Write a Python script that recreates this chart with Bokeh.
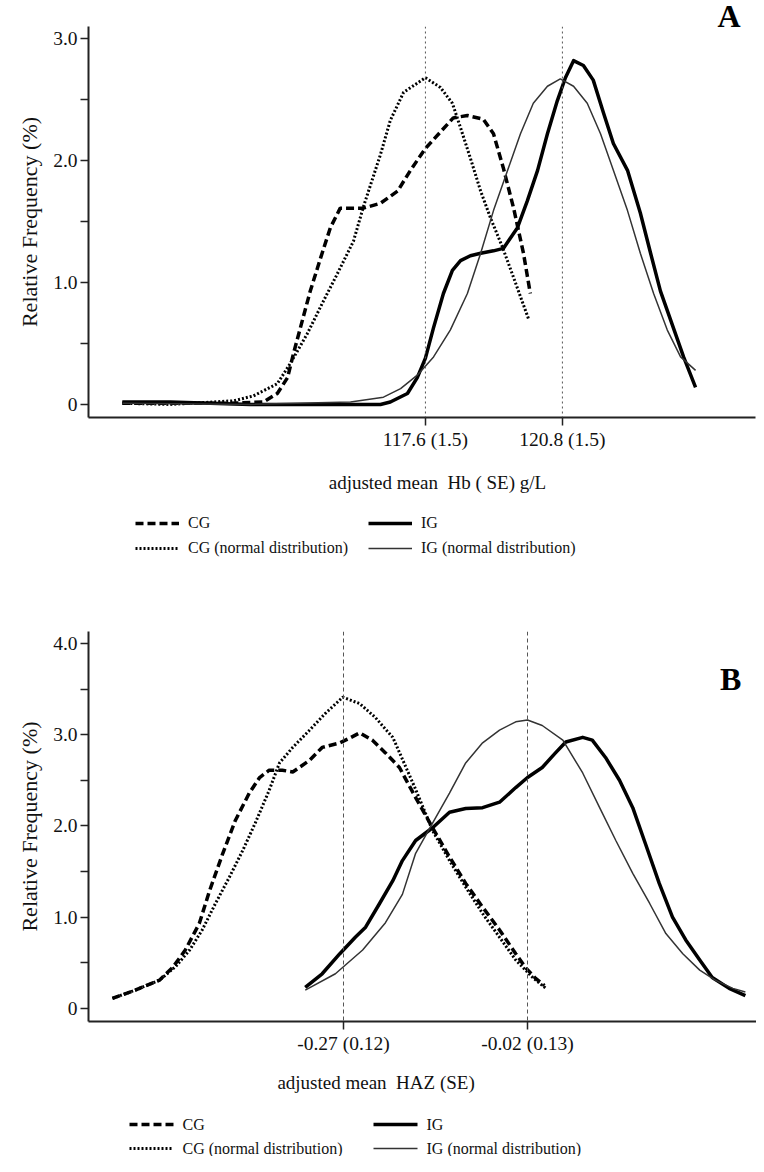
from bokeh.plotting import figure
from bokeh.models import (Range1d, FixedTicker, CustomJSTickFormatter, Span, Label,
                          Legend, LegendItem, Title)
from bokeh.layouts import column
from bokeh.embed import file_html
from bokeh.resources import INLINE

FONT = "Liberation Serif"

# ---------------- Panel A : adjusted mean Hb ----------------
a_cg_x = [110.52, 111.64, 113.05, 113.82, 114.14, 114.38, 114.52, 114.68, 114.91, 115.15,
          115.38, 115.61, 115.85, 116.15, 116.55, 116.95, 117.25, 117.60, 118.25, 118.58,
          118.95, 119.19, 119.42, 119.66, 119.89, 120.05]
a_cg_y = [0.01, 0.01, 0.01, 0.02, 0.09, 0.22, 0.42, 0.63, 0.93, 1.20,
          1.45, 1.61, 1.61, 1.61, 1.65, 1.75, 1.92, 2.10, 2.35, 2.37,
          2.34, 2.22, 1.94, 1.61, 1.24, 0.91]

a_cgn_x = [110.52, 111.64, 113.12, 113.58, 114.14, 114.45, 114.84, 115.22, 115.54, 115.92,
           116.15, 116.55, 116.78, 117.09, 117.60, 117.95, 118.23, 118.42, 118.65, 118.89,
           119.12, 119.40, 119.66, 120.01]
a_cgn_y = [0.01, 0.00, 0.03, 0.07, 0.17, 0.34, 0.58, 0.85, 1.07, 1.34,
           1.62, 2.05, 2.33, 2.56, 2.68, 2.60, 2.47, 2.27, 2.02, 1.75,
           1.53, 1.29, 1.04, 0.70]

a_ig_x = [110.52, 111.64, 113.51, 115.85, 116.55, 116.78, 117.18, 117.41, 117.60, 117.79,
          118.02, 118.23, 118.42, 118.65, 118.89, 119.19, 119.42, 119.75, 119.98, 120.22,
          120.45, 120.68, 120.87, 121.06, 121.29, 121.52, 121.76, 121.99, 122.32, 122.62,
          122.86, 123.09, 123.39, 123.63, 123.91]
a_ig_y = [0.02, 0.02, 0.00, 0.00, 0.00, 0.02, 0.09, 0.22, 0.38, 0.63,
          0.91, 1.10, 1.18, 1.22, 1.24, 1.26, 1.28, 1.45, 1.67, 1.92,
          2.22, 2.49, 2.68, 2.82, 2.78, 2.66, 2.39, 2.14, 1.92, 1.57,
          1.24, 0.93, 0.63, 0.39, 0.14]

a_ign_x = [110.52, 113.51, 115.85, 116.62, 117.02, 117.41, 117.79, 118.18, 118.58, 118.89,
           119.19, 119.52, 119.82, 120.12, 120.45, 120.75, 121.06, 121.38, 121.69, 121.99,
           122.32, 122.62, 122.93, 123.25, 123.56, 123.91]
a_ign_y = [0.01, 0.00, 0.02, 0.06, 0.13, 0.24, 0.39, 0.61, 0.91, 1.24,
           1.59, 1.92, 2.22, 2.47, 2.61, 2.67, 2.61, 2.47, 2.22, 1.92,
           1.59, 1.24, 0.91, 0.61, 0.39, 0.28]

a_means = [117.6, 120.8]
a_mean_labels = ["117.6 (1.5)", "120.8 (1.5)"]
a_yticks = [0, 1, 2, 3]
a_yminor = [0.5, 1.5, 2.5]
a_xlabel = "adjusted mean\u00a0 Hb (\u00a0SE) g/L"

# ---------------- Panel B : adjusted mean HAZ ----------------
b_cg_x = [-0.584, -0.553, -0.520, -0.502, -0.485, -0.466, -0.452, -0.434, -0.417, -0.398,
          -0.384, -0.371, -0.353, -0.339, -0.316, -0.299, -0.275, -0.262, -0.248, -0.231,
          -0.213, -0.194, -0.172, -0.149, -0.126, -0.104, -0.081, -0.058, -0.036, -0.023,
          -0.009, 0.003]
b_cg_y = [0.11, 0.20, 0.31, 0.45, 0.64, 0.93, 1.29, 1.70, 2.06, 2.36,
          2.53, 2.61, 2.61, 2.59, 2.72, 2.86, 2.91, 2.96, 3.02, 2.94,
          2.80, 2.64, 2.31, 1.98, 1.66, 1.37, 1.11, 0.86, 0.60, 0.45,
          0.33, 0.25]

b_cgn_x = [-0.584, -0.553, -0.520, -0.498, -0.479, -0.462, -0.444, -0.425, -0.407, -0.390,
           -0.371, -0.357, -0.339, -0.316, -0.295, -0.271, -0.248, -0.227, -0.203, -0.172,
           -0.149, -0.126, -0.104, -0.081, -0.058, -0.036, -0.013, 0.005]
b_cgn_y = [0.11, 0.20, 0.31, 0.46, 0.64, 0.86, 1.15, 1.44, 1.73, 2.03,
           2.39, 2.69, 2.86, 3.05, 3.23, 3.41, 3.34, 3.19, 2.97, 2.40,
           1.95, 1.62, 1.33, 1.04, 0.78, 0.53, 0.34, 0.22]

b_ig_x = [-0.322, -0.299, -0.275, -0.254, -0.240, -0.221, -0.203, -0.190, -0.172, -0.149,
          -0.126, -0.104, -0.081, -0.058, -0.036, -0.020, 0.000, 0.018, 0.032, 0.055,
          0.068, 0.086, 0.105, 0.123, 0.140, 0.159, 0.177, 0.195, 0.214, 0.231,
          0.254, 0.276]
b_ig_y = [0.23, 0.38, 0.60, 0.78, 0.89, 1.15, 1.40, 1.62, 1.84, 1.98,
          2.15, 2.19, 2.20, 2.26, 2.42, 2.53, 2.64, 2.80, 2.92, 2.97,
          2.94, 2.75, 2.50, 2.20, 1.81, 1.37, 1.00, 0.75, 0.53, 0.34,
          0.22, 0.14]

b_ign_x = [-0.322, -0.281, -0.244, -0.213, -0.190, -0.172, -0.149, -0.126, -0.104, -0.081,
           -0.058, -0.036, -0.020, 0.000, 0.028, 0.055, 0.078, 0.100, 0.123, 0.146,
           0.168, 0.191, 0.214, 0.235, 0.259, 0.276]
b_ign_y = [0.20, 0.38, 0.64, 0.94, 1.25, 1.70, 2.03, 2.36, 2.69, 2.91,
           3.05, 3.14, 3.16, 3.10, 2.94, 2.58, 2.20, 1.84, 1.48, 1.15,
           0.82, 0.60, 0.42, 0.31, 0.22, 0.18]

b_means = [-0.27, -0.02]
b_mean_labels = ["-0.27 (0.12)", "-0.02 (0.13)"]
b_yticks = [0, 1, 2, 3, 4]
b_yminor = [0.5, 1.5, 2.5, 3.5]
b_xlabel = "adjusted mean\u00a0 HAZ (SE)"

legend_labels = ["CG", "IG", "CG (normal distribution)", "IG (normal distribution)"]

STYLES = [dict(line_color="black", line_width=3.5, line_dash="8 4"),
          dict(line_color="black", line_width=3, line_dash="2 2"),
          dict(line_color="black", line_width=3.5, line_join="round"),
          dict(line_color="#333333", line_width=1.5)]
LEGEND_STYLE_IDX = [0, 2, 1, 3]   # CG, IG / CG normal, IG normal


def make_panel(series, xr, yr, fw, fh, left, top, bottom, means, mean_labels,
               yticks, yminor, mean_dash, letter, letter_pos):
    p = figure(frame_width=fw, frame_height=fh, x_range=Range1d(*xr), y_range=Range1d(*yr),
               output_backend="svg", toolbar_location=None,
               min_border_left=left, min_border_top=top, min_border_bottom=bottom,
               min_border_right=1)
    p.outline_line_color = None
    p.xgrid.visible = False
    p.ygrid.visible = False
    p.background_fill_color = "white"
    p.border_fill_color = "white"

    for m in means:
        p.add_layout(Span(location=m, dimension="height", line_color="#555555",
                          line_width=1, line_dash=mean_dash))

    for (sx, sy), st in zip(series, STYLES):
        p.line(sx, sy, **st)

    for ax in (p.xaxis[0], p.yaxis[0]):
        ax.axis_line_width = 2
        ax.axis_line_color = "#222222"
        ax.major_tick_line_color = "#222222"
        ax.minor_tick_line_color = "#222222"
        ax.major_tick_line_width = 1.5
        ax.minor_tick_line_width = 1.5
        ax.major_tick_in = 0
        ax.major_tick_out = 8
        ax.minor_tick_in = 0
        ax.minor_tick_out = 8
        ax.major_label_text_font = FONT
        ax.major_label_text_font_size = "19.5px"
        ax.major_label_text_color = "#111111"

    p.xaxis.ticker = FixedTicker(ticks=means, minor_ticks=[])
    p.xaxis.formatter = CustomJSTickFormatter(
        args=dict(mticks=means, mlabels=mean_labels),
        code="for (let i = 0; i < mticks.length; i++) { if (Math.abs(tick - mticks[i]) < 1e-6) return mlabels[i]; } return '';")
    p.xaxis.major_label_standoff = 3

    p.yaxis.ticker = FixedTicker(ticks=yticks, minor_ticks=yminor)
    p.yaxis.formatter = CustomJSTickFormatter(code="return tick == 0 ? '0' : tick.toFixed(1);")
    p.yaxis.major_label_standoff = 3
    p.yaxis.axis_label = "Relative Frequency (%)"
    p.yaxis.axis_label_text_font = FONT
    p.yaxis.axis_label_text_font_size = "22px"
    p.yaxis.axis_label_text_font_style = "normal"
    p.yaxis.axis_label_text_color = "#111111"
    p.yaxis.axis_label_standoff = 8

    if letter_pos is None:
        p.add_layout(Title(text=letter, align="right", offset=15, vertical_align="bottom",
                           standoff=-14, text_font=FONT, text_font_size="32px",
                           text_font_style="bold", text_color="black"), "above")
    else:
        p.add_layout(Label(x=letter_pos[0], y=letter_pos[1], text=letter, text_align="center",
                           text_baseline="alphabetic", text_font=FONT, text_font_size="32px",
                           text_font_style="bold", text_color="black"))
    return p


def make_strip(xr, fw, left, height, xlabel, xlabel_pos):
    # strip below a panel (same horizontal scale) holding the x-axis title and the legend
    q = figure(frame_width=fw, frame_height=height, x_range=Range1d(*xr),
               y_range=Range1d(0, height), output_backend="svg", toolbar_location=None,
               x_axis_type=None, y_axis_type=None, min_border_left=left, min_border_right=1,
               min_border_top=0, min_border_bottom=0)
    q.outline_line_color = None
    q.xgrid.visible = False
    q.ygrid.visible = False
    q.background_fill_color = "white"
    q.border_fill_color = "white"
    q.add_layout(Label(x=xlabel_pos[0], y=xlabel_pos[1], text=xlabel, text_align="center",
                       text_baseline="alphabetic", text_font=FONT, text_font_size="19px",
                       text_color="#111111"))
    return q


def add_bokeh_legend(q, series, legend_loc, legend_lw):
    rends = [q.line(sx, sy, visible=False, **st) for (sx, sy), st in zip(series, STYLES)]
    items = [LegendItem(label=legend_labels[i], renderers=[rends[LEGEND_STYLE_IDX[i]]])
             for i in range(4)]
    legend = Legend(items=items, location=legend_loc, orientation="horizontal", ncols=2,
                    glyph_width=44, glyph_height=20, label_height=20, label_width=legend_lw,
                    label_standoff=9, spacing=5, padding=0, margin=0,
                    border_line_color=None, background_fill_alpha=0,
                    label_text_font=FONT, label_text_font_size="16px",
                    label_text_color="#111111")
    q.add_layout(legend)


def add_key(q, xr, fw, height, col_off, row_off, glyph_w=44, gap=9):
    # two-column key drawn inside the strip; offsets in px from the frame's left / top
    per_px = (xr[1] - xr[0]) / fw
    for i in range(4):
        c, r = i % 2, i // 2
        x0 = xr[0] + col_off[c] * per_px
        x1 = xr[0] + (col_off[c] + glyph_w) * per_px
        y = height - row_off[r]
        q.line([x0, x1], [y, y], **STYLES[LEGEND_STYLE_IDX[i]])
        q.add_layout(Label(x=xr[0] + (col_off[c] + glyph_w + gap) * per_px, y=y,
                           text=legend_labels[i], text_align="left", text_baseline="middle",
                           text_font=FONT, text_font_size="16px", text_color="#111111"))


a_series = [(a_cg_x, a_cg_y), (a_cgn_x, a_cgn_y), (a_ig_x, a_ig_y), (a_ign_x, a_ign_y)]
b_series = [(b_cg_x, b_cg_y), (b_cgn_x, b_cgn_y), (b_ig_x, b_ig_y), (b_ign_x, b_ign_y)]
a_xr = (109.73, 125.31)
b_xr = (-0.6165, 0.2925)

pA = make_panel(a_series, xr=a_xr, yr=(-0.107, 3.10), fw=667, fh=391,
                left=88, top=26, bottom=38, means=a_means, mean_labels=a_mean_labels,
                yticks=a_yticks, yminor=a_yminor, mean_dash="2 3", letter="A", letter_pos=None)
lA = make_strip(a_xr, 667, 88, 128, a_xlabel, (117.88, 101))
add_bokeh_legend(lA, a_series, (47, 25), 175)

pB = make_panel(b_series, xr=b_xr, yr=(-0.143, 4.13), fw=669, fh=390,
                left=86, top=48, bottom=38, means=b_means, mean_labels=b_mean_labels,
                yticks=b_yticks, yminor=b_yminor, mean_dash="4 3", letter="B",
                letter_pos=(0.256, 3.61))
lB = make_strip(b_xr, 669, 86, 97, b_xlabel, (-0.2258, 74))
add_key(lB, b_xr, 669, 97, col_off=(41, 285), row_off=(65, 89))

layout = column(pA, lA, pB, lB, spacing=0)
open("out.html", "w").write(file_html(layout, INLINE))
